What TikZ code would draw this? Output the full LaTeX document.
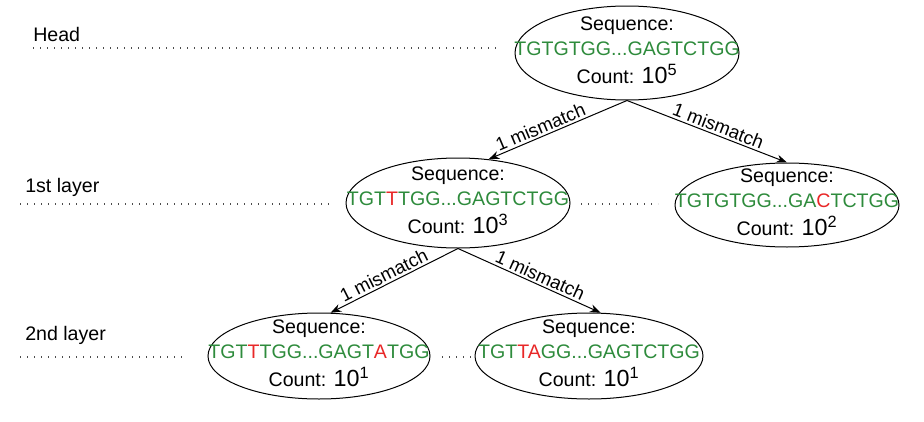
\documentclass[tikz,border=0pt]{standalone}
\usepackage{fontspec}
\setmainfont{Liberation Sans}
\usetikzlibrary{arrows.meta,shapes.geometric}
\definecolor{seqgreen}{RGB}{46,139,60}
\definecolor{mutred}{RGB}{232,40,40}
\def\seqg#1{\textcolor{seqgreen}{#1}}
\def\seqr#1{\textcolor{mutred}{#1}}
\def\countlbl#1{Count: {\fontsize{17.5}{17.5}\selectfont 10\textsuperscript{#1}}}
\tikzset{
  seqnode/.style={draw, ellipse, line width=0.75pt, inner sep=0pt},
  seqtext/.style={inner sep=0pt, align=center, font=\fontsize{14.7}{19}\selectfont},
  layerlbl/.style={anchor=base west, inner sep=0pt, font=\fontsize{14.7}{17}\selectfont},
  layerline/.style={line width=0.8pt, black!70, dash pattern=on 0.8pt off 4.45pt},
  mm/.style={-{Stealth[length=8pt,width=6pt]}, line width=0.75pt},
  mmlabel/.style={sloped, above, inner sep=1.5pt, font=\fontsize{14}{14}\selectfont}
}

\begin{document}
\begin{tikzpicture}[x=0.75pt, y=-0.75pt]
		%%%%% START %%%%%
		\useasboundingbox (0, 0) rectangle (924, 421);
		
		\node[layerlbl] (headlbl) at (33, 41) {Head};
		\node[layerlbl] (firstlbl) at (25, 192) {1st layer};
		\node[layerlbl] (secondlbl) at (25, 340) {2nd layer};
		
		\draw[layerline] (33, 48) -- (498, 48);
		\draw[layerline] (20, 204) -- (330, 204);
		\draw[layerline] (581, 204) -- (658, 204);
		\draw[layerline] (20, 357) -- (185, 357);
		\draw[layerline] (442, 357) -- (475, 357);
		
		% ellipses
		\node[seqnode, minimum width=168pt, minimum height=70.5pt] (head) at (627, 53) {};
		\node[seqnode, minimum width=168pt, minimum height=67.5pt] (l1a) at (458, 203) {};
		\node[seqnode, minimum width=168pt, minimum height=63pt] (l1b) at (787, 205) {};
		\node[seqnode, minimum width=166.5pt, minimum height=64.5pt] (l2a) at (319, 356) {};
		\node[seqnode, minimum width=171pt, minimum height=64.5pt] (l2b) at (589, 356) {};
		
		% texts
		\node[seqtext] (headtxt) at ([yshift=2pt]head.center)
			{Sequence:\\ \seqg{TGTGTGG...GAGTCTGG}\\[2pt] \countlbl{5}};
		\node[seqtext] (l1atxt) at ([yshift=2pt]l1a.center)
			{Sequence:\\ \seqg{TGT\seqr{T}TGG...GAGTCTGG}\\[2pt] \countlbl{3}};
		\node[seqtext] (l1btxt) at ([yshift=2pt]l1b.center)
			{Sequence:\\ \seqg{TGTGTGG...GA\seqr{C}TCTGG}\\[2pt] \countlbl{2}};
		\node[seqtext] (l2atxt) at ([yshift=2pt]l2a.center)
			{Sequence:\\ \seqg{TGT\seqr{T}TGG...GAGT\seqr{A}TGG}\\[2pt] \countlbl{1}};
		\node[seqtext] (l2btxt) at ([yshift=2pt]l2b.center)
			{Sequence:\\ \seqg{TGT\seqr{TA}GG...GAGTCTGG}\\[2pt] \countlbl{1}};
		
		\draw[mm] (head.south) -- node[mmlabel, pos=0.6] {1 mismatch} (l1a.55);
		\draw[mm] (head.south) -- node[mmlabel, pos=0.55] {1 mismatch} (l1b.north);
		\draw[mm] (l1a.south) -- node[mmlabel, pos=0.55] {1 mismatch} (l2a.75);
		\draw[mm] (l1a.south) -- node[mmlabel, pos=0.55] {1 mismatch} (l2b.75);
		%%%%% END %%%%%
\end{tikzpicture}
\end{document}
